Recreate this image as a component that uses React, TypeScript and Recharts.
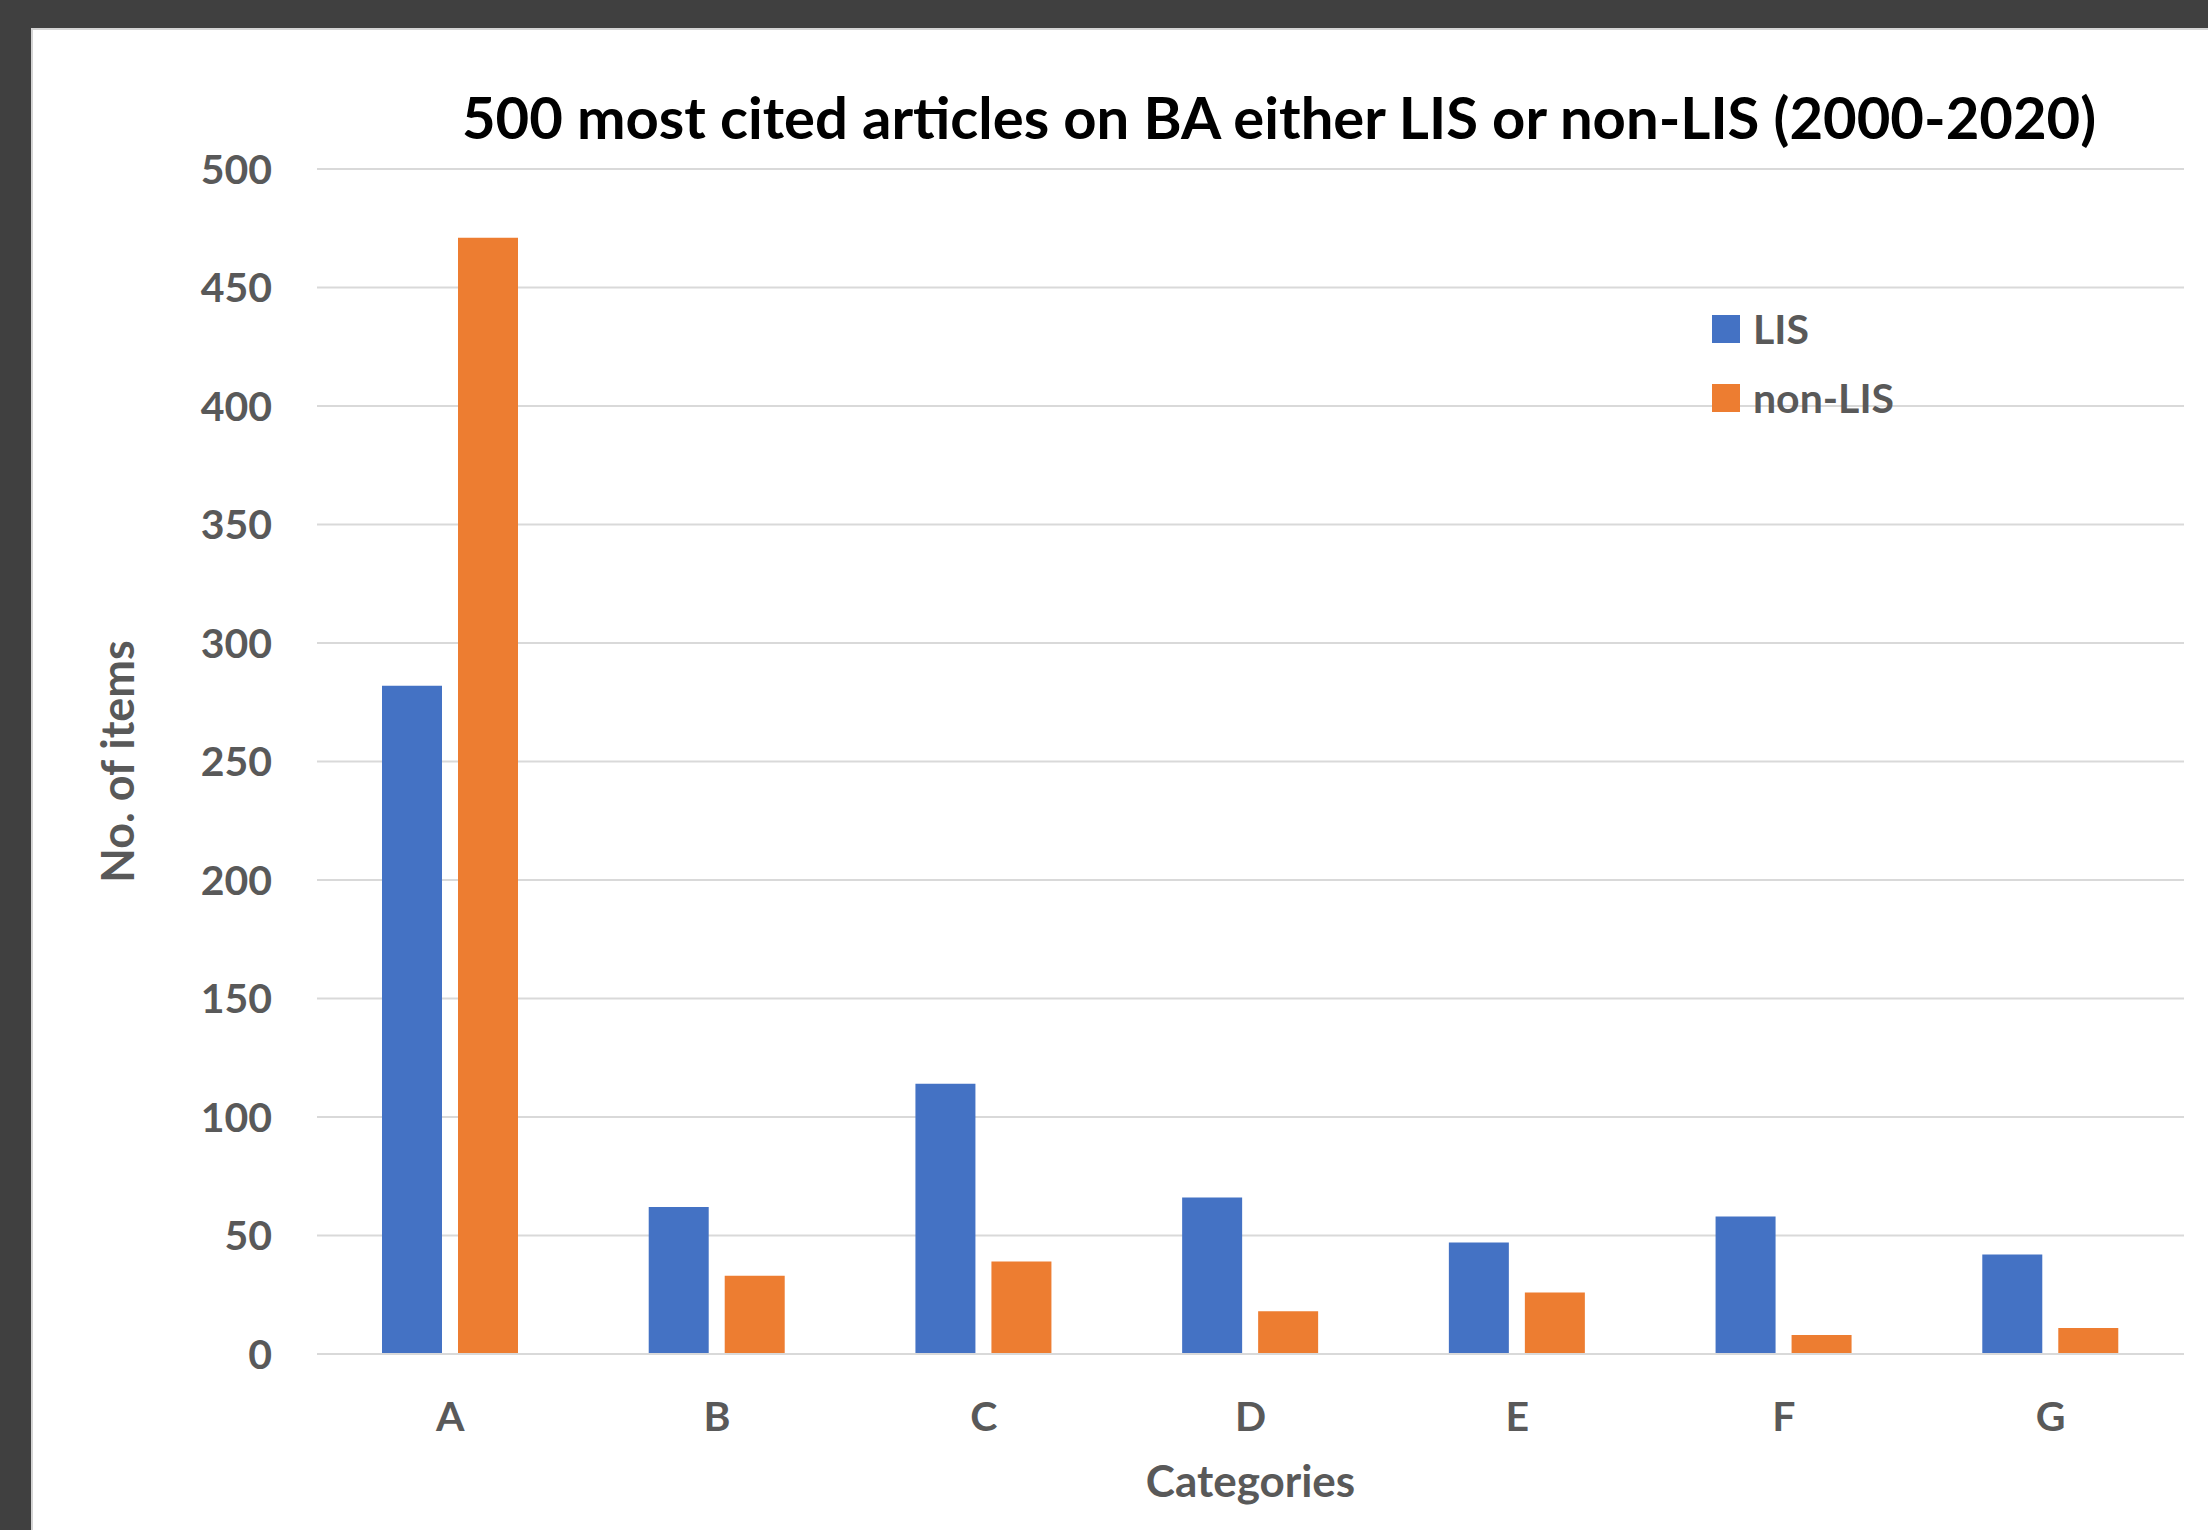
import { BarChart, Bar, XAxis, YAxis, CartesianGrid, Legend } from 'recharts'

// values
const categories = ['A', 'B', 'C', 'D', 'E', 'F', 'G']
const lisCounts = [282, 62, 114, 66, 47, 58, 42]
const nonLisCounts = [471, 33, 39, 18, 26, 8, 11]
const yTicks = [0, 50, 100, 150, 200, 250, 300, 350, 400, 450, 500]

const FONT = 'Lato, "Open Sans", sans-serif'
const GREY_TEXT = '#595959'
const BLUE = '#4472C4'
const ORANGE = '#ED7D31'

const chartData = categories.map((cat, i) => ({
  category: cat,
  LIS: lisCounts[i],
  'non-LIS': nonLisCounts[i],
}))

function renderLegend(props: any) {
  const { payload = [] } = props
  return (
    <div style={{ fontFamily: FONT }}>
      {payload.map((entry: any) => (
        <div
          key={entry.value}
          style={{ display: 'flex', alignItems: 'center', height: 69 }}
        >
          <span
            style={{
              display: 'inline-block',
              width: 28,
              height: 28,
              background: entry.color,
              marginRight: 13,
            }}
          />
          <span
            style={{
              fontSize: 41,
              fontWeight: 700,
              color: GREY_TEXT,
              lineHeight: '69px',
            }}
          >
            {entry.value}
          </span>
        </div>
      ))}
    </div>
  )
}

function YLabel(props: any) {
  const { viewBox } = props
  const cx = viewBox.x + 117
  const cy = viewBox.y + viewBox.height / 2
  return (
    <text
      x={cx}
      y={cy}
      transform={`rotate(-90, ${cx}, ${cy})`}
      textAnchor="middle"
      dominantBaseline="central"
      fill={GREY_TEXT}
      fontSize={45}
      fontWeight={700}
      fontFamily={FONT}
    >
      No. of items
    </text>
  )
}

export default function App() {
  return (
    <div
      style={{
        position: 'absolute',
        left: 0,
        top: 0,
        width: 2208,
        height: 1530,
        background: '#404040',
        overflow: 'hidden',
      }}
    >
      <div
        style={{
          position: 'absolute',
          left: 31,
          top: 28,
          right: 0,
          bottom: 0,
          background: '#fff',
          borderLeft: '2px solid #d4d4d4',
          borderTop: '2px solid #d4d4d4',
        }}
      />
      <div
        style={{
          position: 'absolute',
          left: 350,
          width: 1858,
          top: 82,
          textAlign: 'center',
          fontFamily: FONT,
          fontWeight: 700,
          fontSize: 58,
          lineHeight: 1.2,
          color: '#000',
          whiteSpace: 'nowrap',
        }}
      >
        500 most cited articles on BA either LIS or non-LIS (2000-2020)
      </div>
      <div style={{ position: 'absolute', left: 0, top: 0 }}>
        <BarChart
          width={2208}
          height={1530}
          data={chartData}
          margin={{ top: 169, right: 24, bottom: 0, left: 0 }}
          barSize={60}
          barGap={16}
        >
          <CartesianGrid vertical={false} stroke="#d9d9d9" strokeWidth={2} />
          <XAxis
            dataKey="category"
            height={176}
            tickLine={false}
            tickSize={0}
            tickMargin={48}
            axisLine={{ stroke: '#d9d9d9', strokeWidth: 2 }}
            tick={{ fill: GREY_TEXT, fontSize: 41, fontWeight: 700, fontFamily: FONT }}
            label={{
              value: 'Categories',
              position: 'insideBottom',
              offset: 33,
              fill: GREY_TEXT,
              fontSize: 44,
              fontWeight: 700,
              fontFamily: FONT,
            }}
          />
          <YAxis
            width={317}
            domain={[0, 500]}
            ticks={yTicks}
            tickLine={false}
            axisLine={false}
            tickSize={0}
            tickMargin={45}
            tick={{ fill: GREY_TEXT, fontSize: 41, fontWeight: 700, fontFamily: FONT }}
            label={<YLabel />}
          />
          <Legend
            layout="vertical"
            align="center"
            verticalAlign="middle"
            content={renderLegend}
            wrapperStyle={{ position: 'absolute', left: 1712, top: 294, width: 'auto', height: 'auto' }}
          />
          <Bar dataKey="LIS" fill={BLUE} isAnimationActive={false} />
          <Bar dataKey="non-LIS" fill={ORANGE} isAnimationActive={false} />
        </BarChart>
      </div>
    </div>
  )
}
